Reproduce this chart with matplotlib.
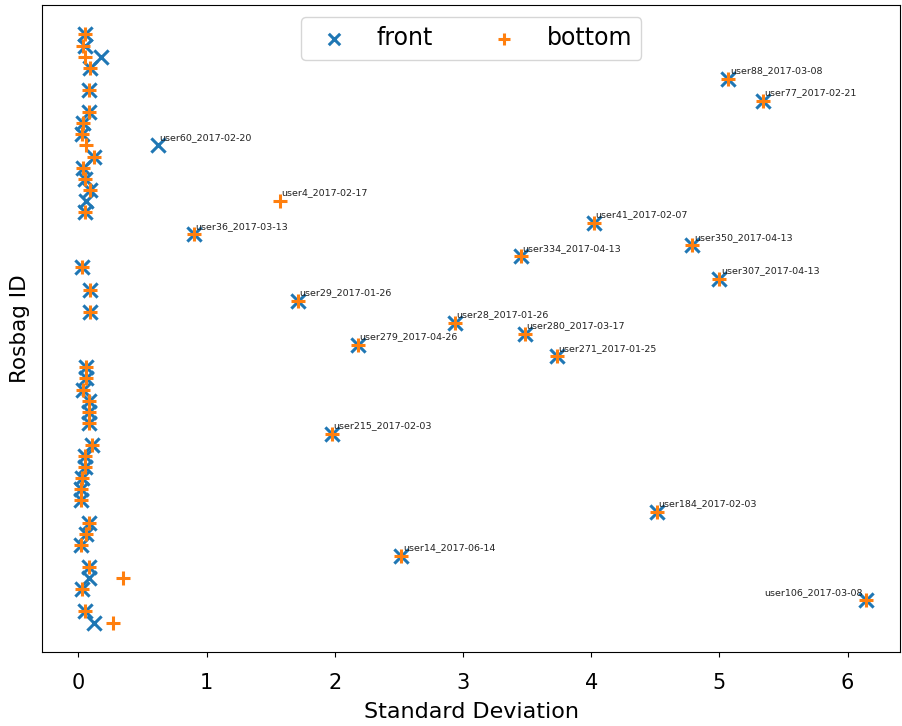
import matplotlib.pyplot as plt

# one row per rosbag, top to bottom
front_std = [0.05, 0.05, 0.18, 0.09, 5.07, 0.08, 5.34, 0.08, 0.04, 0.03,
             0.62, 0.12, 0.04, 0.05, 0.09, 0.06, 0.05, 4.02, 0.90, 4.79,
             3.45, 0.03, 5.00, 0.09, 1.71, 0.09, 2.94, 3.48, 2.18, 3.73,
             0.06, 0.06, 0.04, 0.08, 0.08, 0.08, 1.98, 0.11, 0.05, 0.05,
             0.03, 0.02, 0.02, 4.51, 0.08, 0.06, 0.02, 2.52, 0.08, 0.08,
             0.03, 6.14, 0.05, 0.12]
bottom_std = [0.05, 0.04, 0.05, 0.09, 5.07, 0.08, 5.34, 0.08, 0.04, 0.03,
              0.06, 0.12, 0.04, 0.05, 0.09, 1.57, 0.05, 4.02, 0.90, 4.79,
              3.45, 0.03, 5.00, 0.09, 1.71, 0.09, 2.94, 3.48, 2.18, 3.73,
              0.06, 0.06, 0.04, 0.08, 0.08, 0.08, 1.98, 0.11, 0.05, 0.05,
              0.03, 0.02, 0.02, 4.51, 0.08, 0.06, 0.02, 2.52, 0.08, 0.35,
              0.03, 6.14, 0.05, 0.27]
rosbag = ['', '', '', '', 'user88_2017-03-08', '', 'user77_2017-02-21', '', '', '',
          'user60_2017-02-20', '', '', '', '', 'user4_2017-02-17', '',
          'user41_2017-02-07', 'user36_2017-03-13', 'user350_2017-04-13',
          'user334_2017-04-13', '', 'user307_2017-04-13', '', 'user29_2017-01-26', '',
          'user28_2017-01-26', 'user280_2017-03-17', 'user279_2017-04-26',
          'user271_2017-01-25', '', '', '', '', '', '', 'user215_2017-02-03',
          '', '', '', '', '', '', 'user184_2017-02-03', '', '', '', 'user14_2017-06-14',
          '', '', '', 'user106_2017-03-08', '', '']

rows = list(range(len(front_std)))

fig, ax = plt.subplots(figsize=(9.02, 7.26), dpi=100)
fig.subplots_adjust(left=0.047, right=0.998, top=0.993, bottom=0.102)

ax.scatter(front_std, rows, marker='x', s=105, linewidths=2.2, color='tab:blue', label='front')
ax.scatter(bottom_std, rows, marker='+', s=105, linewidths=2.2, color='tab:orange', label='bottom')

for i, name in enumerate(rosbag):
    if not name:
        continue
    x = max(front_std[i], bottom_std[i])
    if x > 6:
        ax.annotate(name, (x, i), xytext=(-2, 4), textcoords='offset points',
                    ha='right', fontsize=6.8, color='#222222')
    else:
        ax.annotate(name, (x, i), xytext=(1, 4), textcoords='offset points',
                    fontsize=6.8, color='#222222')

ax.set_xlim(-0.28, 6.41)
ax.set_ylim(55.65, -2.65)
ax.set_yticks([])
ax.tick_params(axis='x', labelsize=15, pad=12)
ax.set_xlabel('Standard Deviation', fontsize=16, labelpad=6)
ax.set_ylabel('Rosbag ID', fontsize=15.5, labelpad=9)
ax.legend(loc='upper center', ncol=2, fontsize=17, markerscale=0.8)

plt.savefig('out.png', dpi=100)
